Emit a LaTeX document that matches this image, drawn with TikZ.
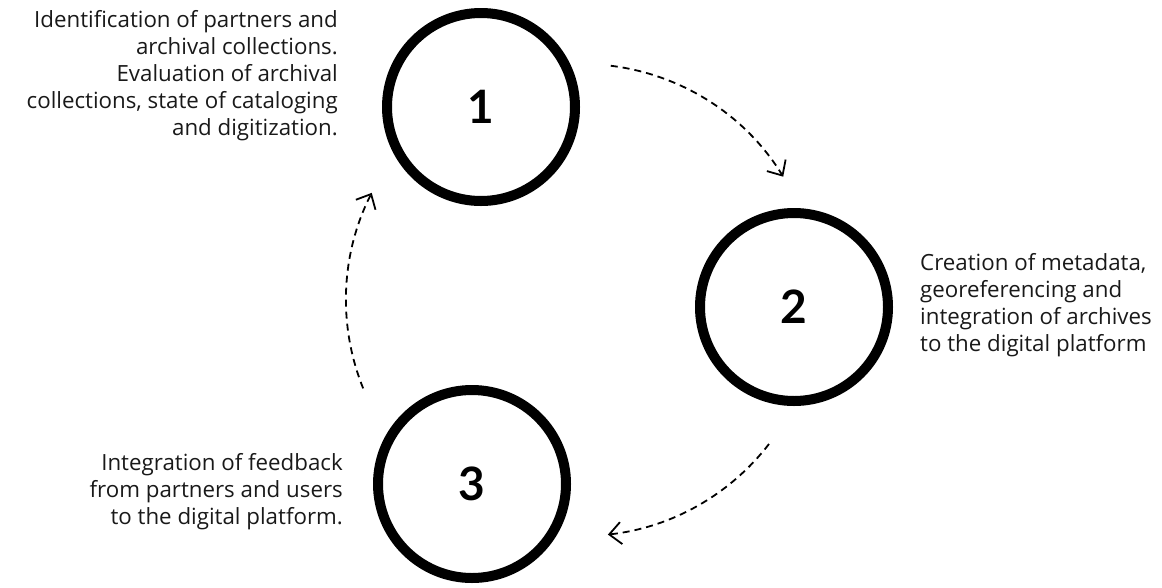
\documentclass[tikz,border=0pt]{standalone}
\usepackage{fontspec}
\setmainfont{Open Sans}[Ligatures=NoCommon]
\newfontfamily\numfont{Lato}
\usetikzlibrary{arrows.meta}
\begin{document}
\begin{tikzpicture}[x=1pt,y=1pt,
  stage/.style={circle,draw=black,line width=10pt,minimum size=188pt,inner sep=0pt,
    font=\numfont\fontsize{46}{46}\selectfont\bfseries},
  note/.style={inner sep=0pt,text=black!90,font=\fontsize{22.3}{27}\selectfont},
  flow/.style={line width=1.8pt,dash pattern=on 7pt off 5pt,
    -{Straight Barb[length=12pt,width=22pt,line width=1.8pt]}}
]
\useasboundingbox (0,0) rectangle (1162,-587);

% the three stages
\node[stage] (s1) at (481,-107) {1};
\node[stage] (s2) at (794,-307) {2};
\node[stage] (s3) at (472,-484) {3};

% centre of the cycle the dashed arrows run around
\coordinate (hub) at (582,-300);

% dashed arrows between the stages
\draw[flow] ([shift={(83:236)}]hub) arc[start angle=83,end angle=31.5,radius=236];
\draw[flow] ([shift={(-37.6:236)}]hub) arc[start angle=-37.6,end angle=-83.7,radius=236];
\draw[flow] ([shift={(202:236)}]hub) arc[start angle=202,end angle=153,radius=236];

% descriptions
\node[note,align=right,anchor=east] (t1) at (338,-76)
  {Identification of partners and\\archival collections.\\Evaluation of archival\\collections, state of cataloging\\and digitization.};
\node[note,align=left,anchor=west] (t2) at (920,-305)
  {Creation of metadata,\\georeferencing and\\integration of archives\\to the digital platform};
\node[note,align=right,anchor=east] (t3) at (343,-492)
  {Integration of feedback\\from partners and users\\to the digital platform.};
\end{tikzpicture}
\end{document}
